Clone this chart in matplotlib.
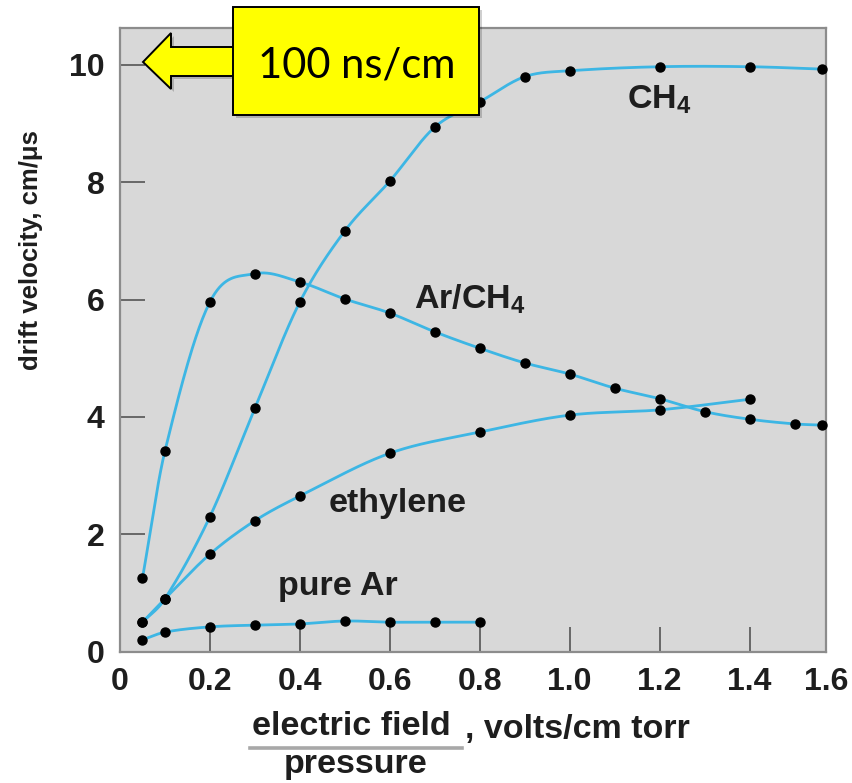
import numpy as np
import matplotlib
matplotlib.use("Agg")
import matplotlib.pyplot as plt
from matplotlib.patches import Polygon, Rectangle
from matplotlib.lines import Line2D

# ---------------- data ----------------
ch4_x = [0.05, 0.1, 0.2, 0.3, 0.4, 0.5, 0.6, 0.7, 0.8, 0.9, 1.0, 1.2, 1.4, 1.56]
ch4_y = [0.50, 0.90, 2.30, 4.15, 5.96, 7.17, 8.02, 8.94, 9.37, 9.80, 9.90, 9.97, 9.97, 9.93]

arch4_x = [0.05, 0.1, 0.2, 0.3, 0.4, 0.5, 0.6, 0.7, 0.8, 0.9, 1.0, 1.1, 1.2, 1.3, 1.4, 1.5, 1.56]
arch4_y = [1.25, 3.42, 5.96, 6.44, 6.30, 6.01, 5.77, 5.45, 5.17, 4.92, 4.73, 4.49, 4.31, 4.09, 3.96, 3.88, 3.86]

eth_x = [0.05, 0.1, 0.2, 0.3, 0.4, 0.6, 0.8, 1.0, 1.2, 1.4]
eth_y = [0.50, 0.90, 1.66, 2.23, 2.65, 3.38, 3.74, 4.03, 4.12, 4.30]

ar_x = [0.05, 0.1, 0.2, 0.3, 0.4, 0.5, 0.6, 0.7, 0.8]
ar_y = [0.20, 0.33, 0.42, 0.45, 0.47, 0.52, 0.50, 0.50, 0.50]

series_labels = ["CH$_4$", "Ar/CH$_4$", "ethylene", "pure Ar"]

x_tick_values = [0, 0.2, 0.4, 0.6, 0.8, 1.0, 1.2, 1.4, 1.6]
x_tick_labels = ["0", "0.2", "0.4", "0.6", "0.8", "1.0", "1.2", "1.4", "1.6"]
y_tick_values = [0, 2, 4, 6, 8, 10]
y_tick_labels = ["0", "2", "4", "6", "8", "10"]

ylabel = "drift velocity, cm/\u03bcs"
xlabel_num = "electric field"
xlabel_den = "pressure"
xlabel_unit = ", volts/cm torr"
callout = "100 ns/cm"

# ---------------- helpers ----------------
def smooth_curve(x, y, n=600):
    """Cubic Hermite curve through the points, tangents from neighbours."""
    x = np.asarray(x, float)
    y = np.asarray(y, float)
    k = len(x)
    m = np.zeros(k)
    m[1:-1] = (y[2:] - y[:-2]) / (x[2:] - x[:-2])
    m[0] = (y[1] - y[0]) / (x[1] - x[0])
    m[-1] = (y[-1] - y[-2]) / (x[-1] - x[-2])
    xs = np.linspace(x[0], x[-1], n)
    idx = np.clip(np.searchsorted(x, xs) - 1, 0, k - 2)
    h = x[idx + 1] - x[idx]
    t = (xs - x[idx]) / h
    h00 = 2 * t ** 3 - 3 * t ** 2 + 1
    h10 = t ** 3 - 2 * t ** 2 + t
    h01 = -2 * t ** 3 + 3 * t ** 2
    h11 = t ** 3 - t ** 2
    ys = h00 * y[idx] + h10 * h * m[idx] + h01 * y[idx + 1] + h11 * h * m[idx + 1]
    return xs, ys

plt.rcParams['font.family'] = ['Liberation Sans', 'DejaVu Sans']
plt.rcParams['font.weight'] = 'bold'
plt.rcParams['mathtext.fontset'] = 'custom'
plt.rcParams['mathtext.rm'] = 'Liberation Sans:bold'
plt.rcParams['mathtext.it'] = 'Liberation Sans:bold'
plt.rcParams['mathtext.bf'] = 'Liberation Sans:bold'

W, H = 853, 783
fig = plt.figure(figsize=(W / 100, H / 100), dpi=100)
fig.patch.set_facecolor('white')

def fx(px):
    return px / W

def fy(py):
    return 1 - py / H

XMAX = 1.57
ax = fig.add_axes([fx(120), fy(651.5), fx(826) - fx(120), fy(28) - fy(651.5)])
ax.set_facecolor('#d8d8d8')
ax.set_xlim(0, XMAX)
ax.set_ylim(0, 10.63)

line_col = '#3db6e4'
text_col = '#1e1e1e'
for xs_, ys_ in [(ch4_x, ch4_y), (arch4_x, arch4_y), (eth_x, eth_y), (ar_x, ar_y)]:
    sx, sy = smooth_curve(xs_, ys_)
    ax.plot(sx, sy, color=line_col, lw=2.0, zorder=2, solid_capstyle='round')
    ax.plot(xs_, ys_, 'o', color='black', ms=6.5, zorder=3, clip_on=False)

# ticks
ax.set_xticks([min(v, XMAX) for v in x_tick_values])
ax.set_xticklabels(x_tick_labels)
ax.set_yticks(y_tick_values)
ax.set_yticklabels(y_tick_labels)
ax.tick_params(direction='in', length=18, width=1.2, color='#555555',
               labelsize=23, labelcolor=text_col, pad=11)
for sp in ax.spines.values():
    sp.set_color('#8c8c8c')
    sp.set_linewidth(1.6)

# series labels
label_pos = [(1.20, 9.40), (0.778, 6.0), (0.618, 2.53), (0.485, 1.10)]
for txt, (lx, ly) in zip(series_labels, label_pos):
    ax.text(lx, ly, txt, ha='center', va='center', fontsize=24.5,
            fontweight='bold', color=text_col, zorder=4)

# y label
fig.text(fx(31), fy(250), ylabel, rotation=90, ha='center', va='center',
         fontsize=18.5, fontweight='bold', color=text_col)

# x label as a fraction
fig.text(fx(351), fy(735), xlabel_num, ha='center', va='baseline',
         fontsize=24.5, fontweight='bold', color=text_col)
fig.add_artist(Line2D([fx(250), fx(462)], [fy(748), fy(748)],
                      transform=fig.transFigure, color='#a8a8a8', lw=2.6))
fig.text(fx(356), fy(773), xlabel_den, ha='center', va='baseline',
         fontsize=24.5, fontweight='bold', color=text_col)
fig.text(fx(465), fy(738), xlabel_unit, ha='left', va='baseline',
         fontsize=24.5, fontweight='bold', color=text_col)

# callout box with arrow
arrow_px = [(143, 62), (171, 33), (171, 47), (240, 47), (240, 76), (171, 76), (171, 89)]
shadow = 3
fig.add_artist(Polygon([(fx(x + shadow), fy(y + shadow)) for x, y in arrow_px],
                       closed=True, transform=fig.transFigure,
                       facecolor='#00000030', edgecolor='none', zorder=8))
fig.add_artist(Rectangle((fx(233 + shadow), fy(115 + shadow)), fx(479) - fx(233),
                         fy(7) - fy(115), transform=fig.transFigure,
                         facecolor='#00000030', edgecolor='none', zorder=8))
fig.add_artist(Polygon([(fx(x), fy(y)) for x, y in arrow_px], closed=True,
                       transform=fig.transFigure, facecolor='#ffff00',
                       edgecolor='black', lw=1.4, zorder=9))
fig.add_artist(Rectangle((fx(233), fy(115)), fx(479) - fx(233), fy(7) - fy(115),
                         transform=fig.transFigure, facecolor='#ffff00',
                         edgecolor='black', lw=1.4, zorder=10))
fig.text(fx(357), fy(65), callout, ha='center', va='center', fontsize=30,
         fontweight='normal', family=['Lato', 'DejaVu Sans'], color='black',
         zorder=11)

fig.savefig('out.png', dpi=100)
